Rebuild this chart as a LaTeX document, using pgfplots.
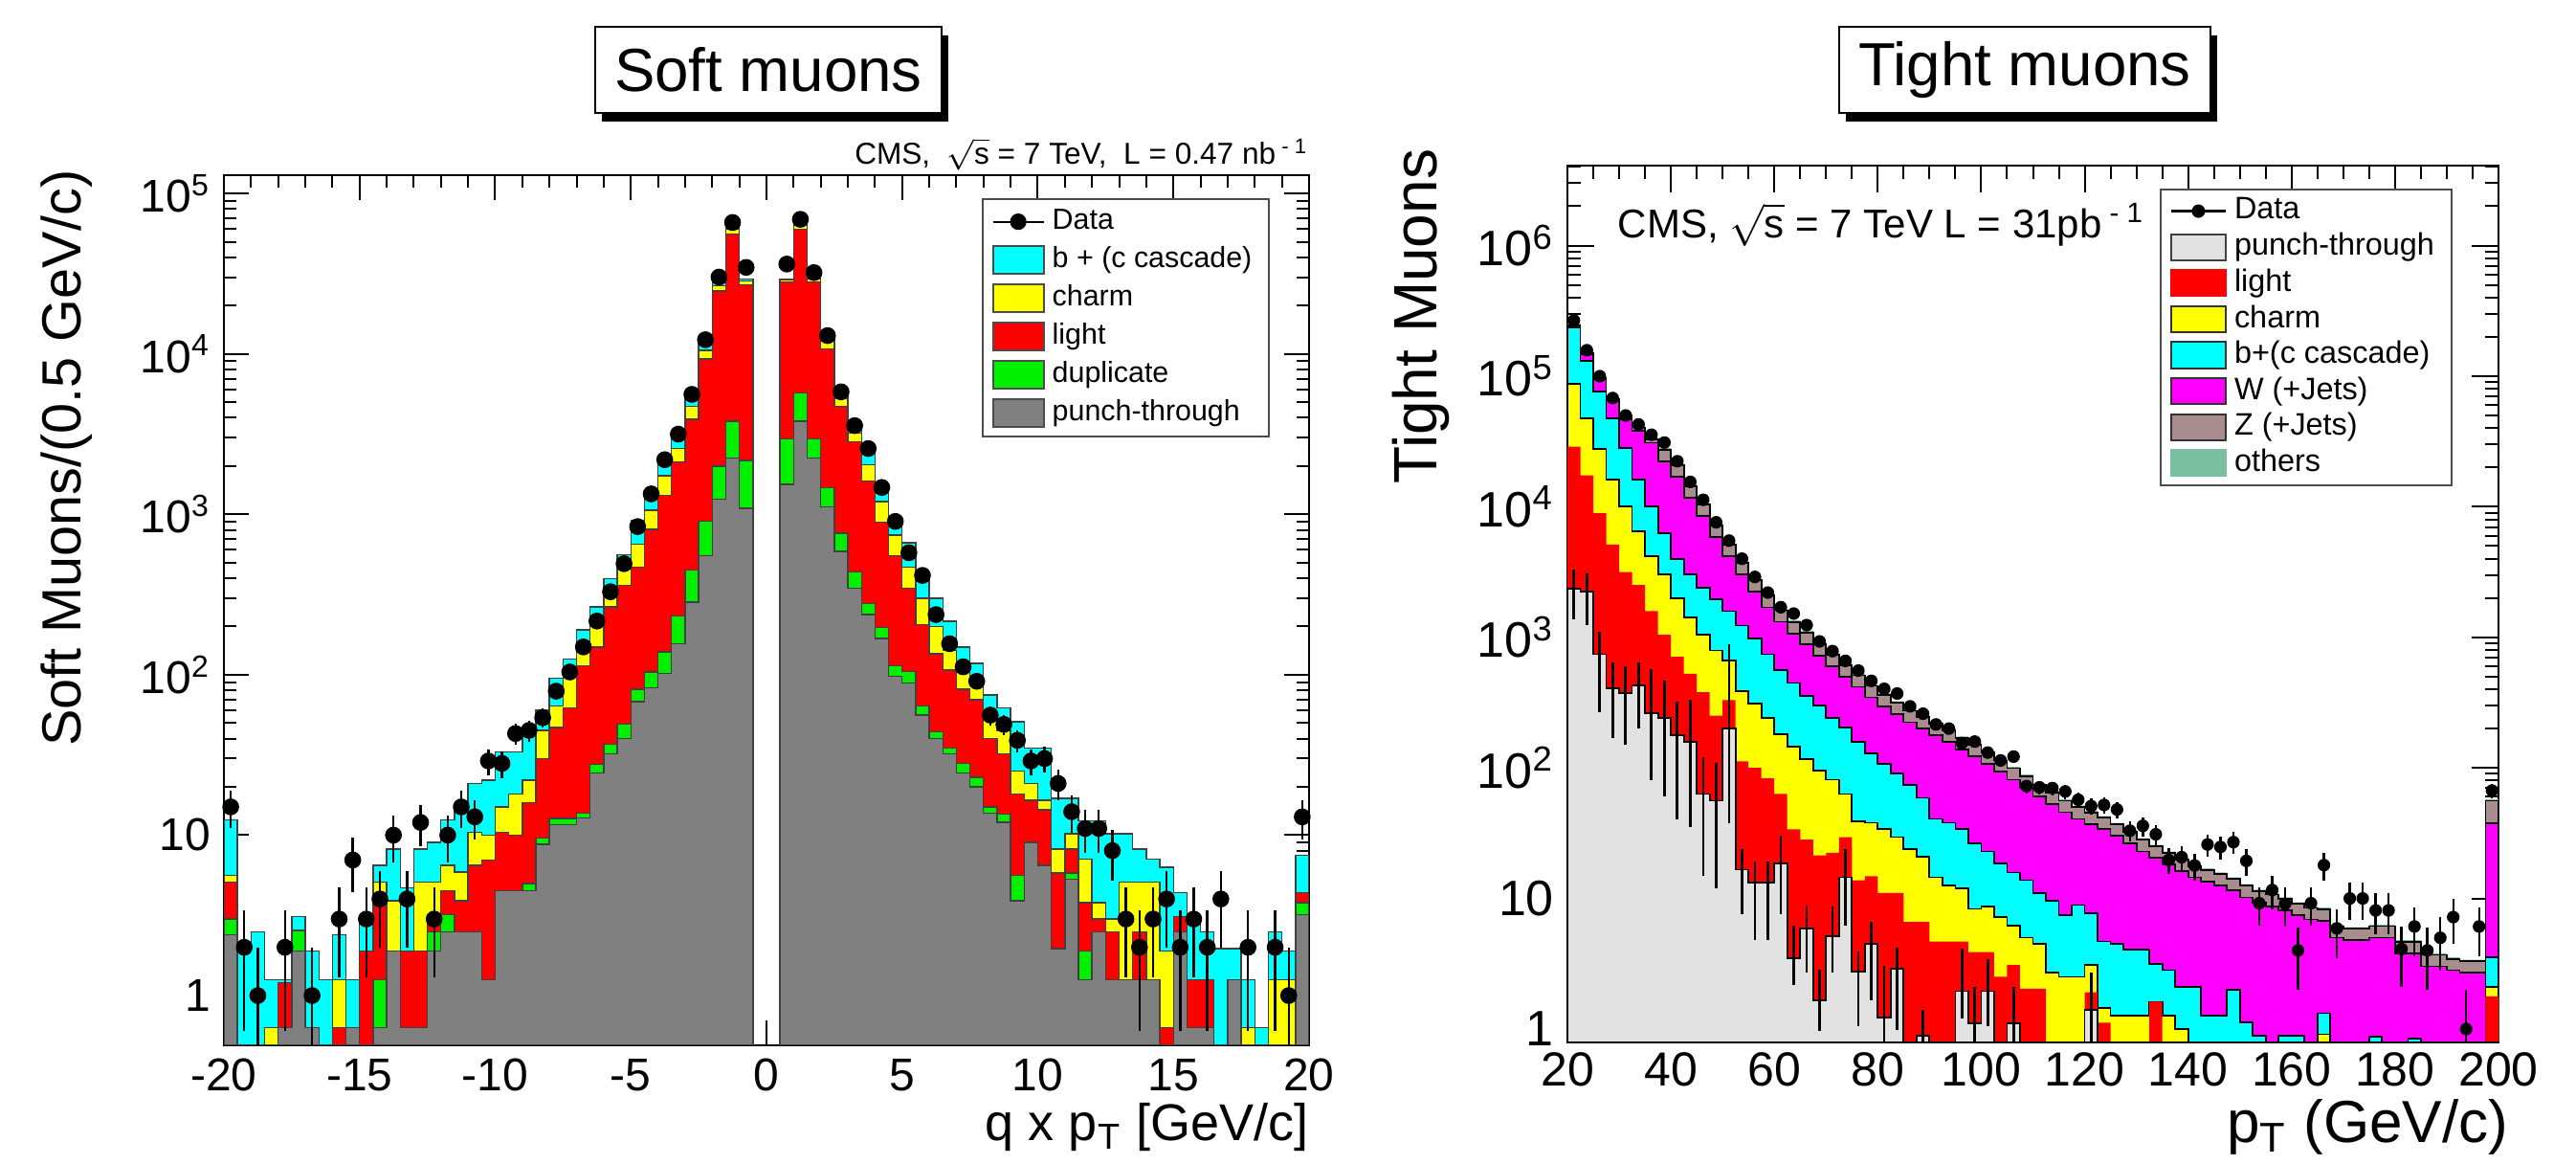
\documentclass[border=0pt]{standalone}
\usepackage{fontspec}
\setmainfont{Liberation Sans}
\usepackage{pgfplots}
\usepackage{pgfplotstable}
\pgfplotsset{compat=1.18}
\usetikzlibrary{shadows}

\definecolor{hcyan}{RGB}{0,255,255}
\definecolor{hyellow}{RGB}{255,255,0}
\definecolor{hred}{RGB}{255,0,0}
\definecolor{hgreen}{RGB}{0,240,0}
\definecolor{hgray}{RGB}{128,128,128}
\definecolor{hlgray}{RGB}{226,226,226}
\definecolor{hmag}{RGB}{255,0,255}
\definecolor{hz}{RGB}{168,140,142}
\definecolor{hoth}{RGB}{122,192,160}

\pgfplotsset{
  boxleg/.style={legend image code/.code={\draw[##1] (0pt,-3.7pt) rectangle (13.3pt,3.7pt);}},
  boxlegR/.style={legend image code/.code={\draw[##1] (0pt,-3.4pt) rectangle (14.2pt,3.4pt);}},
  datleg/.style={legend image code/.code={\draw[black,line width=0.5pt] (0pt,0pt) -- (13.3pt,0pt); \fill[black] (6.65pt,0pt) circle (1.9pt);}},
  datlegR/.style={legend image code/.code={\draw[black,line width=0.6pt] (0pt,0pt) -- (14.2pt,0pt); \fill[black] (7.1pt,0pt) circle (1.5pt);}},
}

% ---------------- Soft muons: cumulative stacks (bin lower edge) ----------------
\pgfplotstableread{
q P G R Y C
-20.0 2.4 3.0 5.1 5.6 12.5
-19.5 0.1 0.1 0.1 0.1 1.9
-19.0 0.1 0.1 0.1 0.1 2.5
-18.5 0.1 0.1 0.1 0.63 1.26
-18.0 0.63 0.63 1.2 1.2 1.26
-17.5 1.9 2.55 2.55 2.55 3.1
-17.0 0.63 0.63 0.63 0.63 1.9
-16.5 0.1 0.1 0.1 0.1 1.26
-16.0 0.1 0.1 0.63 1.26 2.4
-15.5 0.63 0.63 0.63 0.63 1.26
-15.0 0.1 0.1 1.9 1.9 3.1
-14.5 0.63 1.26 3.9 5.1 6.5
-14.0 1.9 1.9 1.9 3.9 8.2
-13.5 0.63 0.63 1.9 1.9 4.7
-13.0 0.63 0.63 1.9 5.1 8.2
-12.5 1.9 2.5 3.2 5.1 9.0
-12.0 2.5 3.2 4.5 6.5 12.5
-11.5 2.5 2.5 3.9 5.9 14.8
-11.0 2.5 2.5 6.5 10.4 21
-10.5 1.26 1.26 7 10 22
-10.0 4.5 4.5 10.4 15 33
-9.5 4.5 4.5 10 18 33
-9.0 4.5 5.0 16 22 46
-8.5 8.75 9.6 30 45 60
-8.0 11.6 12.7 47 64 95
-7.5 11.6 12.7 62 97 125
-7.0 12.8 13.7 114 146 190
-6.5 24.5 27.6 149 206 265
-6.0 32 37 265 351 398
-5.5 40 49 361 456 561
-5.0 68 81 470 652 920
-4.5 83 104 807 1060 1400
-4.0 102 139 1310 1740 2130
-3.5 156 233 2130 2570 3100
-3.0 283 448 3920 4720 5400
-2.5 551 904 9270 10500 12000
-2.0 1240 2000 24700 26500 29200
-1.5 2240 3810 56000 60000 64700
-1.0 1090 2170 27000 28500 29200
-0.5 1090 2170 27000 28500 29200
}\sneg

\pgfplotstableread{
q P G R Y C
0.5 1540 2960 28000 28800 29200
1.0 3810 5700 60000 63000 64700
1.5 2240 2960 28000 29500 30100
2.0 1110 1470 10700 12000 12600
2.5 587 763 4720 5300 5700
3.0 345 436 2830 3200 3600
3.5 237 278 1610 2030 2450
4.0 168 197 895 1200 1540
4.5 98 114 551 740 937
5.0 89 105 345 470 663
5.5 56 64 206 300 436
6.0 40 44 135 200 300
6.5 32 35 107 142 216
7.0 24.5 28 81 107 149
7.5 20 23 70 93 118
8.0 13.7 15 40 55 75
8.5 12 13.5 32 45 62
9.0 3.9 5.6 18 25 51
9.5 9 9 16.5 21 35
10.0 6.5 6.5 14.4 16.5 35
10.5 1.96 1.96 5.8 8.2 17
11.0 5.3 5.8 8.2 10.2 17
11.5 1.26 1.9 3.8 7.1 12.3
12.0 2.5 2.5 3.0 3.8 12.3
12.5 1.26 1.26 2.5 3.0 10.2
13.0 1.26 1.26 1.26 5.1 10.2
13.5 1.26 1.26 2.5 5.1 8.2
14.0 1.26 1.26 1.26 5.1 7.1
14.5 0.1 0.1 0.63 1.9 6.3
15.0 2.5 2.5 3.1 3.1 4.4
15.5 0.63 0.63 1.26 1.26 3.0
16.0 0.63 0.63 1.26 1.26 2.5
16.5 0.1 0.1 0.1 0.1 1.96
17.0 1.26 1.26 1.26 1.26 1.96
17.5 0.1 0.1 0.1 0.63 1.26
18.0 0.1 0.1 0.1 0.1 0.63
18.5 0.1 0.1 0.1 1.26 2.5
19.0 0.1 0.1 0.1 1.26 1.9
19.5 3.2 3.8 4.4 4.4 7.5
20.0 3.2 3.8 4.4 4.4 7.5
}\spos

\pgfplotstableread{
x D ep em
-19.75 15 3.9 3.9
-19.25 2 1.4 1.4
-18.75 1 1 0.95
-17.75 2 1.4 1.4
-16.75 1 1 0.95
-15.75 3 1.7 1.7
-15.25 7 2.6 2.6
-14.75 3 1.7 1.7
-14.25 4 2 2
-13.75 10 3.2 3.2
-13.25 4 2 2
-12.75 12 3.5 3.5
-12.25 3 1.7 1.7
-11.75 10 3.2 3.2
-11.25 15 3.9 3.9
-10.75 13 3.6 3.6
-10.25 29 5.4 5.4
-9.75 28 5.3 5.3
-9.25 43 6.6 6.6
-8.75 45 6.7 6.7
-8.25 54 7.3 7.3
-7.75 79 8.9 8.9
-7.25 104 10 10
-6.75 149 12 12
-6.25 216 15 15
-5.75 329 18 18
-5.25 492 22 22
-4.75 838 29 29
-4.25 1340 37 37
-3.75 2190 47 47
-3.25 3160 56 56
-2.75 5590 75 75
-2.25 12250 110 110
-1.75 30100 173 173
-1.25 65900 257 257
-0.75 34600 186 186
0.75 36300 190 190
1.25 69000 263 263
1.75 32100 179 179
2.25 13000 114 114
2.75 5800 76 76
3.25 3570 60 60
3.75 2570 51 51
4.25 1470 38 38
4.75 903 30 30
5.25 576 24 24
5.75 416 20 20
6.25 237 15 15
6.75 156 12.5 12.5
7.25 112 10.6 10.6
7.75 91 9.5 9.5
8.25 56 7.5 7.5
8.75 49 7 7
9.25 39 6.2 6.2
9.75 29 5.4 5.4
10.25 30 5.5 5.5
10.75 21 4.6 4.6
11.25 14 3.7 3.7
11.75 11 3.3 3.3
12.25 11 3.3 3.3
12.75 8 2.8 2.8
13.25 3 1.7 1.7
13.75 2 1.4 1.4
14.25 3 1.7 1.7
14.75 4 2 2
15.25 2 1.4 1.4
15.75 3 1.7 1.7
16.25 2 1.4 1.4
16.75 4 2 2
17.75 2 1.4 1.4
18.75 2 1.4 1.4
19.25 1 1 0.95
19.75 13 3.6 3.6
}\sdata

% ---------------- Tight muons: cumulative stacks (bin lower edge) ----------------
\pgfplotstableread{
pt P R Y C W Z O
20.0 2344 28840 87100 234400 239900 244300 251200
22.5 2239 17380 47860 131800 147900 150700 154900
25.0 741 8913 27540 75860 95500 97270 100000
27.5 407 5129 16220 47860 66070 67300 69180
30.0 372 3162 10000 28180 46770 49890 51290
32.5 427 2512 6457 16220 38020 40550 41690
35.0 263 1585 4169 10000 30900 32960 33880
37.5 240 1047 3020 6310 22390 27420 28180
40.0 178 708 1995 3981 16980 20800 21380
42.5 158 525 1413 3020 11750 14390 14790
45.0 63 380 1047 2399 8511 10420 10720
47.5 56 251 794 1950 5888 7211 7413
50.0 200 331 661 1585 4169 5105 5248
52.5 16.6 112 389 1230 3020 3698 3802
55.0 13.2 100 309 977 2239 2742 2818
57.5 13.2 83.2 240 741 1698 2080 2138
60.0 18.6 63.1 182 562 1318 1614 1660
62.5 3.47 33.9 145 447 1072 1312 1349
65.0 5.89 28.2 117 355 891 1091 1122
67.5 1.66 21.4 95.5 302 724 887 912
70.0 5.13 22.4 81.3 240 603 738 759
72.5 14.5 29.5 63.1 204 501 614 631
75.0 2.75 13.8 38.9 158 417 511 525
77.5 4.47 14.8 38.0 129 347 425 437
80.0 1.23 11.0 33.9 107 295 361 372
82.5 2.88 11.0 29.5 91.2 257 315 324
85.0 0.1 6.61 24.0 74.1 224 274 282
87.5 0.89 6.61 20.9 58.9 200 244 251
90.0 0.1 4.68 14.5 40.7 178 218 224
92.5 0.1 4.68 12.6 38.0 158 194 200
95.0 1.95 4.68 12.0 33.9 138 169 174
97.5 1.10 3.89 8.32 26.3 123 151 155
100.0 1.95 3.89 8.71 22.9 107 131 135
102.5 0.1 2.51 7.24 18.6 93.3 114 117
105.0 1.10 3.09 6.17 15.8 81.3 99.5 102
107.5 0.1 2.04 5.01 13.8 70.8 86.7 89.1
110.0 0.1 2.04 4.47 11.0 60.3 73.8 75.9
112.5 0.1 0.1 2.69 9.55 52.5 64.3 66.1
115.0 0.1 0.1 2.51 7.41 45.7 56.0 57.5
117.5 0.1 0.1 2.51 8.91 40.7 49.9 51.3
120.0 1.41 1.91 3.09 7.76 37.2 45.5 46.8
122.5 0.1 1.12 1.45 4.68 33.9 41.5 42.7
125.0 0.1 0.1 1.26 4.47 30.2 37.0 38.0
127.5 0.1 0.1 1.26 4.07 26.3 32.2 33.1
130.0 0.1 0.1 1.26 4.07 22.9 28.1 28.8
132.5 0.1 1.62 1.62 3.16 20.4 25.0 25.7
135.0 0.1 0.1 1.26 2.82 18.2 22.3 22.9
137.5 0.1 0.1 1.0 2.09 16.2 19.9 20.4
140.0 0.1 0.1 0.1 2.09 14.5 17.7 18.2
142.5 0.1 0.1 0.1 1.26 13.5 16.5 17.0
145.0 0.1 0.1 0.1 1.26 12.6 15.4 15.8
147.5 0.1 0.1 0.1 2.0 11.5 14.1 14.5
150.0 0.1 0.1 0.1 1.12 10.2 12.5 12.9
152.5 0.1 0.1 0.1 0.89 9.33 11.4 11.7
155.0 0.1 0.1 0.1 0.1 8.71 10.7 11.0
157.5 0.1 0.1 0.1 0.89 8.13 9.95 10.2
160.0 0.1 0.1 0.1 0.89 7.41 9.08 9.33
162.5 0.1 0.1 0.1 0.1 6.92 8.47 8.71
165.0 0.1 0.1 0.91 1.32 6.76 8.28 8.51
167.5 0.1 0.1 0.1 0.1 5.01 6.14 6.31
170.0 0.1 0.1 0.1 0.1 4.79 5.86 6.03
172.5 0.1 0.1 0.1 0.1 4.79 5.86 6.03
175.0 0.1 0.1 0.1 0.87 5.01 6.14 6.31
177.5 0.1 0.1 0.1 0.1 5.01 6.14 6.31
180.0 0.1 0.1 0.1 0.1 3.80 4.66 4.79
182.5 0.1 0.1 0.1 0.85 3.80 4.66 4.79
185.0 0.1 0.1 0.1 0.1 3.02 3.70 3.80
187.5 0.1 0.1 0.1 0.1 3.02 3.70 3.80
190.0 0.1 0.1 0.1 0.1 2.82 3.45 3.55
192.5 0.1 0.1 0.1 0.1 2.69 3.30 3.39
195.0 0.1 0.1 0.1 0.1 2.69 3.30 3.39
197.5 0.1 1.78 2.09 3.55 37.5 56.0 57.5
200.0 0.1 1.78 2.09 3.55 37.5 56.0 57.5
}\tstack

\pgfplotstableread{
x P ep em
21.25 2344 960 960
23.75 2239 860 1000
26.25 741 360 475
28.75 407 240 237
31.25 372 230 222
33.75 427 213 227
36.25 263 307 183
38.75 240 230 180
41.25 178 142 138
43.75 158 172 123
46.25 63 57 48
48.75 56 54 44
51.25 200 690 162
53.75 16.6 7.4 9
56.25 13.2 6 8.4
58.75 13.2 6 8.4
61.25 18.6 11.6 11
63.75 3.47 2.7 1.3
66.25 5.89 3 3.2
68.75 1.66 1.2 0.7
71.25 5.13 3.6 2.4
73.75 14.5 9.5 8.3
76.25 2.75 1.2 1.7
78.75 4.47 2.1 2.8
81.25 1.23 1.8 0.6
83.75 2.88 1.3 1.9
88.75 0.89 0.5 0.5
96.25 1.95 2.2 0.75
98.75 1.10 1.0 0.6
101.25 1.95 1.5 0.9
106.25 1.10 1.0 0.6
121.25 1.41 1.3 0.7
}\tperr

\pgfplotstableread{
x D ep em
21.25 267000 517 517
23.75 158000 397 397
26.25 100000 316 316
28.75 68000 261 261
31.25 50000 224 224
33.75 42700 207 207
36.25 35600 189 189
38.75 31000 176 176
41.25 22300 149 149
43.75 15500 124 124
46.25 11300 106 106
48.75 7600 87 87
51.25 5500 74 74
53.75 4000 63 63
56.25 2900 54 54
58.75 2200 47 47
61.25 1700 41 41
63.75 1520 39 39
66.25 1240 35 35
68.75 930 30 30
71.25 784 28 28
73.75 660 26 26
76.25 556 24 24
78.75 464 22 22
81.25 403 20 20
83.75 371 19 19
86.25 296 17 17
88.75 260 16 16
91.25 215 15 15
93.75 200 14 14
96.25 155 12.4 12.4
98.75 159 12.6 12.6
101.25 131 11.4 11.4
103.75 114 10.7 10.7
106.25 122 11 11
108.75 72.5 8.5 8.5
111.25 71 8.4 8.4
113.75 70 8.4 8.4
116.25 66 8.1 8.1
118.75 57 7.5 7.5
121.25 51 7.1 7.1
123.75 52 7.2 7.2
126.25 48 6.9 6.9
128.75 33 5.7 5.7
131.25 36 6 6
133.75 31 5.6 5.6
136.25 19.7 4.4 4.4
138.75 20.7 4.5 4.5
141.25 17.9 4.2 4.2
143.75 25.9 5.1 5.1
146.25 24.8 5 5
148.75 27 5.2 5.2
151.25 19.4 4.4 4.4
153.75 9.2 3 3
156.25 11.6 3.4 3.4
158.75 9.1 3 3
161.25 4 2 2
163.75 9.2 3 3
166.25 18 4.2 4.2
168.75 5.9 2.4 2.4
171.25 10 3.2 3.2
173.75 10 3.2 3.2
176.25 8.1 2.8 2.8
178.75 8.1 2.8 2.8
181.25 4.1 2 2
183.75 6.1 2.5 2.5
186.25 4 2 2
188.75 5 2.2 2.2
191.25 7.2 2.7 2.7
193.75 1 1 0.95
196.25 6.1 2.5 2.5
198.75 67 8.2 8.2
}\tdata

\begin{document}
\begin{tikzpicture}
\useasboundingbox (0,0) rectangle (673pt,304pt);

% ======================= Soft muons =======================
\begin{axis}[
  at={(58.5pt,31pt)}, anchor=south west,
  scale only axis, width=283.5pt, height=227.25pt,
  xmin=-20, xmax=20,
  ymode=log, ymin=0.49, ymax=1.3e5,
  log origin y=infty,
  axis line style={line width=0.6pt},
  tick align=inside,
  major tick length=6.5pt, minor tick length=3.3pt,
  tick style={line width=0.5pt, black},
  xtick={-20,-15,-10,-5,0,5,10,15,20},
  xticklabels={-20,-15,-10,-5,0,5,10,15,20},
  minor x tick num=4,
  ytick={1,10,100,1000,10000,100000},
  yticklabels={1,10,10\textsuperscript{2},10\textsuperscript{3},10\textsuperscript{4},10\textsuperscript{5}},
  minor ytick={0.5,0.6,0.7,0.8,0.9,2,3,4,5,6,7,8,9,20,30,40,50,60,70,80,90,200,300,400,500,600,700,800,900,2000,3000,4000,5000,6000,7000,8000,9000,20000,30000,40000,50000,60000,70000,80000,90000},
  tick label style={font=\fontsize{12}{14}\selectfont},
  legend style={at={(0.698,0.974)}, anchor=north west, draw=black!70, line width=0.5pt, fill=white,
    font=\fontsize{7.6}{9}\selectfont, inner xsep=2.5pt, inner ysep=1pt, row sep=0pt,
    nodes={inner ysep=0pt, minimum height=10pt}},
  legend cell align=left,
]
\addlegendimage{datleg}
\addlegendentry{Data}
\addlegendimage{boxleg, fill=hcyan, draw=black!70}
\addlegendentry{b + (c cascade)}
\addlegendimage{boxleg, fill=hyellow, draw=black!70}
\addlegendentry{charm}
\addlegendimage{boxleg, fill=hred, draw=black!70}
\addlegendentry{light}
\addlegendimage{boxleg, fill=hgreen, draw=black!70}
\addlegendentry{duplicate}
\addlegendimage{boxleg, fill=hgray, draw=black!70}
\addlegendentry{punch-through}

\addplot[forget plot, const plot, fill=hcyan, draw=black!75, line width=0.35pt] table[x=q,y=C]{\sneg} \closedcycle;
\addplot[forget plot, const plot, fill=hyellow, draw=black!75, line width=0.35pt] table[x=q,y=Y]{\sneg} \closedcycle;
\addplot[forget plot, const plot, fill=hred, draw=black!75, line width=0.35pt] table[x=q,y=R]{\sneg} \closedcycle;
\addplot[forget plot, const plot, fill=hgreen, draw=black!75, line width=0.35pt] table[x=q,y=G]{\sneg} \closedcycle;
\addplot[forget plot, const plot, fill=hgray, draw=black!75, line width=0.35pt] table[x=q,y=P]{\sneg} \closedcycle;

\addplot[forget plot, const plot, fill=hcyan, draw=black!75, line width=0.35pt] table[x=q,y=C]{\spos} \closedcycle;
\addplot[forget plot, const plot, fill=hyellow, draw=black!75, line width=0.35pt] table[x=q,y=Y]{\spos} \closedcycle;
\addplot[forget plot, const plot, fill=hred, draw=black!75, line width=0.35pt] table[x=q,y=R]{\spos} \closedcycle;
\addplot[forget plot, const plot, fill=hgreen, draw=black!75, line width=0.35pt] table[x=q,y=G]{\spos} \closedcycle;
\addplot[forget plot, const plot, fill=hgray, draw=black!75, line width=0.35pt] table[x=q,y=P]{\spos} \closedcycle;

\addplot[forget plot, only marks, mark=*, mark size=2pt, black,
  error bars/.cd, y dir=both, y explicit, error mark=none,
  error bar style={line width=0.6pt, black}]
  table[x=x, y=D, y error plus=ep, y error minus=em]{\sdata};
\end{axis}

% ======================= Tight muons =======================
\begin{axis}[
  at={(409.5pt,31.75pt)}, anchor=south west,
  scale only axis, width=243.25pt, height=229pt,
  xmin=20, xmax=200,
  ymode=log, ymin=0.79, ymax=4.1e6,
  log origin y=infty,
  axis line style={line width=0.6pt},
  tick align=inside,
  major tick length=7pt, minor tick length=3.5pt,
  tick style={line width=0.5pt, black},
  xtick={20,40,60,80,100,120,140,160,180,200},
  xticklabels={20,40,60,80,100,120,140,160,180,200},
  minor x tick num=3,
  ytick={1,10,100,1000,10000,100000,1000000},
  yticklabels={1,10,10\textsuperscript{2},10\textsuperscript{3},10\textsuperscript{4},10\textsuperscript{5},10\textsuperscript{6}},
  minor ytick={0.8,0.9,2,3,4,5,6,7,8,9,20,30,40,50,60,70,80,90,200,300,400,500,600,700,800,900,2000,3000,4000,5000,6000,7000,8000,9000,20000,30000,40000,50000,60000,70000,80000,90000,200000,300000,400000,500000,600000,700000,800000,900000,2000000,3000000,4000000},
  xticklabel style={font=\fontsize{12.5}{14}\selectfont, inner sep=2.5pt},
  yticklabel style={font=\fontsize{13}{15}\selectfont},
  legend style={at={(0.636,0.974)}, anchor=north west, draw=black!70, line width=0.5pt, fill=white,
    font=\fontsize{8.1}{9.5}\selectfont, inner xsep=2.5pt, inner ysep=1pt, row sep=0pt,
    nodes={inner ysep=0pt, minimum height=9.4pt}},
  legend cell align=left,
]
\addlegendimage{datlegR}
\addlegendentry{Data}
\addlegendimage{boxlegR, fill=hlgray, draw=black!75}
\addlegendentry{punch-through}
\addlegendimage{boxlegR, fill=hred, draw=hred}
\addlegendentry{light}
\addlegendimage{boxlegR, fill=hyellow, draw=black!80}
\addlegendentry{charm}
\addlegendimage{boxlegR, fill=hcyan, draw=black!80}
\addlegendentry{b+(c cascade)}
\addlegendimage{boxlegR, fill=hmag, draw=black!80}
\addlegendentry{W (+Jets)}
\addlegendimage{boxlegR, fill=hz, draw=black!80}
\addlegendentry{Z (+Jets)}
\addlegendimage{boxlegR, fill=hoth, draw=hoth}
\addlegendentry{others}

\addplot[forget plot, const plot, fill=hoth, draw=none] table[x=pt,y=O]{\tstack} \closedcycle;
\addplot[forget plot, const plot, fill=hz, draw=black, line width=0.45pt] table[x=pt,y=Z]{\tstack} \closedcycle;
\addplot[forget plot, const plot, fill=hmag, draw=black, line width=0.45pt] table[x=pt,y=W]{\tstack} \closedcycle;
\addplot[forget plot, const plot, fill=hcyan, draw=black, line width=0.45pt] table[x=pt,y=C]{\tstack} \closedcycle;
\addplot[forget plot, const plot, fill=hyellow, draw=black, line width=0.45pt] table[x=pt,y=Y]{\tstack} \closedcycle;
\addplot[forget plot, const plot, fill=hred, draw=none] table[x=pt,y=R]{\tstack} \closedcycle;
\addplot[forget plot, const plot, fill=hlgray, draw=black, line width=0.45pt] table[x=pt,y=P]{\tstack} \closedcycle;

\addplot[forget plot, only marks, mark=*, mark size=0pt, black,
  error bars/.cd, y dir=both, y explicit, error mark=none,
  error bar style={line width=0.7pt, black}]
  table[x=x, y=P, y error plus=ep, y error minus=em]{\tperr};

\addplot[forget plot, only marks, mark=*, mark size=1.45pt, black,
  error bars/.cd, y dir=both, y explicit, error mark=none,
  error bar style={line width=0.6pt, black}]
  table[x=x, y=D, y error plus=ep, y error minus=em]{\tdata};
\end{axis}

% ======================= labels and titles =======================
\node[rotate=90, anchor=east, inner sep=0pt, font=\fontsize{14.4}{16}\selectfont] at (17.5pt,259.75pt) {Soft Muons/(0.5 GeV/c)};
\node[rotate=90, anchor=east, inner sep=0pt, font=\fontsize{16}{18}\selectfont] at (371.25pt,265.25pt) {Tight Muons};
\node[anchor=east, inner sep=0pt, font=\fontsize{13.5}{16}\selectfont] at (342pt,9.5pt) {q x p\textsubscript{T} [GeV/c]};
\node[anchor=east, inner sep=0pt, font=\fontsize{15.5}{17}\selectfont] at (655.5pt,9.6pt) {p\textsubscript{T} (GeV/c)};
\node[anchor=base east, inner sep=0pt, font=\fontsize{7.9}{9}\selectfont] at (342pt,261pt) {CMS,\ \ $\sqrt{\mbox{s}}$ = 7 TeV,\ \ L = 0.47 nb\textsuperscript{ - 1}};
\node[anchor=west, inner sep=0pt, font=\fontsize{10.5}{12}\selectfont] at (422.5pt,245.25pt) {CMS, $\sqrt{\mbox{s}}$ = 7 TeV L = 31pb\textsuperscript{ - 1}};

\node[draw=black, line width=0.6pt, fill=white, minimum width=90.5pt, minimum height=22.5pt, inner sep=0pt,
  font=\fontsize{15.9}{18}\selectfont,
  drop shadow={shadow xshift=1.75pt, shadow yshift=-2.25pt, fill=black, opacity=1}]
  at (200.75pt,285.75pt) {Soft muons};
\node[draw=black, line width=0.6pt, fill=white, minimum width=97pt, minimum height=22.5pt, inner sep=0pt,
  font=\fontsize{15.9}{18}\selectfont,
  drop shadow={shadow xshift=1.75pt, shadow yshift=-2.25pt, fill=black, opacity=1}]
  at (529pt,285.75pt) {Tight muons};
\end{tikzpicture}
\end{document}
